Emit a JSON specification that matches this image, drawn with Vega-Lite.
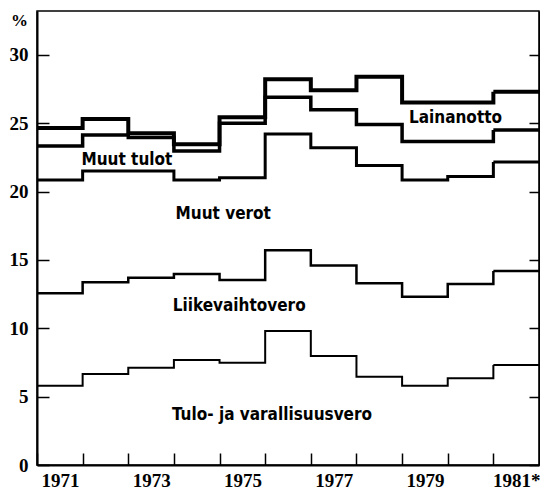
{
  "$schema": "https://vega.github.io/schema/vega-lite/v6.json",
  "width": 502,
  "height": 454,
  "autosize": {"type": "none"},
  "padding": {"left": 37, "top": 11, "right": 1, "bottom": 27},
  "background": "white",
  "config": {
    "view": {"stroke": "black", "strokeWidth": 1.5},
    "axis": {
      "grid": false,
      "domainColor": "black",
      "domainWidth": 2,
      "tickColor": "black",
      "tickWidth": 1.5,
      "labelColor": "black",
      "labelFont": "Liberation Sans Narrow",
      "labelFontWeight": "bold",
      "labelFontSize": 19
    }
  },
  "datasets": {
    "steps": [
      {"series": "Lainanotto", "year": 1971, "value": 24.65},
      {"series": "Lainanotto", "year": 1972, "value": 25.3},
      {"series": "Lainanotto", "year": 1973, "value": 24.26},
      {"series": "Lainanotto", "year": 1974, "value": 23.46},
      {"series": "Lainanotto", "year": 1975, "value": 25.43},
      {"series": "Lainanotto", "year": 1976, "value": 28.2},
      {"series": "Lainanotto", "year": 1977, "value": 27.4},
      {"series": "Lainanotto", "year": 1978, "value": 28.4},
      {"series": "Lainanotto", "year": 1979, "value": 26.5},
      {"series": "Lainanotto", "year": 1980, "value": 26.5},
      {"series": "Lainanotto", "year": 1981, "value": 27.3},
      {"series": "Muut tulot", "year": 1971, "value": 23.33},
      {"series": "Muut tulot", "year": 1972, "value": 24.14},
      {"series": "Muut tulot", "year": 1973, "value": 23.95},
      {"series": "Muut tulot", "year": 1974, "value": 22.97},
      {"series": "Muut tulot", "year": 1975, "value": 25.0},
      {"series": "Muut tulot", "year": 1976, "value": 26.9},
      {"series": "Muut tulot", "year": 1977, "value": 25.97},
      {"series": "Muut tulot", "year": 1978, "value": 24.9},
      {"series": "Muut tulot", "year": 1979, "value": 23.65},
      {"series": "Muut tulot", "year": 1980, "value": 23.65},
      {"series": "Muut tulot", "year": 1981, "value": 24.5},
      {"series": "Muut verot", "year": 1971, "value": 20.85},
      {"series": "Muut verot", "year": 1972, "value": 21.5},
      {"series": "Muut verot", "year": 1973, "value": 21.5},
      {"series": "Muut verot", "year": 1974, "value": 20.85},
      {"series": "Muut verot", "year": 1975, "value": 21.0},
      {"series": "Muut verot", "year": 1976, "value": 24.2},
      {"series": "Muut verot", "year": 1977, "value": 23.2},
      {"series": "Muut verot", "year": 1978, "value": 21.9},
      {"series": "Muut verot", "year": 1979, "value": 20.85},
      {"series": "Muut verot", "year": 1980, "value": 21.1},
      {"series": "Muut verot", "year": 1981, "value": 22.15},
      {"series": "Liikevaihtovero", "year": 1971, "value": 12.56},
      {"series": "Liikevaihtovero", "year": 1972, "value": 13.37},
      {"series": "Liikevaihtovero", "year": 1973, "value": 13.7},
      {"series": "Liikevaihtovero", "year": 1974, "value": 13.97},
      {"series": "Liikevaihtovero", "year": 1975, "value": 13.53},
      {"series": "Liikevaihtovero", "year": 1976, "value": 15.7},
      {"series": "Liikevaihtovero", "year": 1977, "value": 14.58},
      {"series": "Liikevaihtovero", "year": 1978, "value": 13.29},
      {"series": "Liikevaihtovero", "year": 1979, "value": 12.31},
      {"series": "Liikevaihtovero", "year": 1980, "value": 13.24},
      {"series": "Liikevaihtovero", "year": 1981, "value": 14.19},
      {"series": "Tulo- ja varallisuusvero", "year": 1971, "value": 5.8},
      {"series": "Tulo- ja varallisuusvero", "year": 1972, "value": 6.66},
      {"series": "Tulo- ja varallisuusvero", "year": 1973, "value": 7.12},
      {"series": "Tulo- ja varallisuusvero", "year": 1974, "value": 7.68},
      {"series": "Tulo- ja varallisuusvero", "year": 1975, "value": 7.48},
      {"series": "Tulo- ja varallisuusvero", "year": 1976, "value": 9.8},
      {"series": "Tulo- ja varallisuusvero", "year": 1977, "value": 7.97},
      {"series": "Tulo- ja varallisuusvero", "year": 1978, "value": 6.46},
      {"series": "Tulo- ja varallisuusvero", "year": 1979, "value": 5.8},
      {"series": "Tulo- ja varallisuusvero", "year": 1980, "value": 6.34},
      {"series": "Tulo- ja varallisuusvero", "year": 1981, "value": 7.32}
    ],
    "labels": [
      {"label": "Lainanotto", "year": 1980.17, "value": 25.4},
      {"label": "Muut tulot", "year": 1972.97, "value": 22.3},
      {"label": "Muut  verot", "year": 1975.08, "value": 18.36},
      {"label": "Liikevaihtovero", "year": 1975.43, "value": 11.63},
      {"label": "Tulo- ja varallisuusvero", "year": 1976.15, "value": 3.66}
    ]
  },
  "layer": [
    {
      "data": {"name": "steps"},
      "mark": {"type": "line", "interpolate": "step-after", "color": "black", "strokeJoin": "miter"},
      "encoding": {
        "x": {
          "field": "year",
          "type": "quantitative",
          "scale": {"domain": [1971, 1982], "nice": false, "zero": false},
          "axis": {
            "title": null,
            "values": [1971, 1972, 1973, 1974, 1975, 1976, 1977, 1978, 1979, 1980, 1981],
            "labelExpr": "datum.value % 2 == 1 ? (datum.value == 1981 ? '1981*' : format(datum.value, 'd')) : ''",
            "labelOffset": 23,
            "labelFlush": false,
            "labelOverlap": false,
            "labelBound": false,
            "tickSize": -12,
            "labelPadding": 18
          }
        },
        "y": {
          "field": "value",
          "type": "quantitative",
          "scale": {"domain": [0, 33.2], "nice": false},
          "axis": {
            "orient": "left",
            "values": [0, 5, 10, 15, 20, 25, 30],
            "tickSize": -12,
            "labelPadding": 21,
            "title": "%",
            "titleAngle": 0,
            "titleX": -18,
            "titleY": 9,
            "titleAlign": "center",
            "titleBaseline": "middle",
            "titleFont": "Liberation Sans Narrow",
            "titleFontWeight": "bold",
            "titleFontSize": 17,
            "titleColor": "black"
          }
        },
        "detail": {"field": "series", "type": "nominal"},
        "strokeWidth": {
          "field": "series",
          "type": "nominal",
          "scale": {
            "domain": ["Lainanotto", "Muut tulot", "Muut verot", "Liikevaihtovero", "Tulo- ja varallisuusvero"],
            "range": [4, 2, 2, 2, 2]
          },
          "legend": null
        }
      }
    },
    {
      "data": {"name": "steps"},
      "transform": [{"filter": "datum.year == 1981"}],
      "mark": {"type": "rule", "color": "black"},
      "encoding": {
        "x": {"field": "year", "type": "quantitative"},
        "x2": {"datum": 1982},
        "y": {
          "field": "value",
          "type": "quantitative",
          "axis": {
            "orient": "right",
            "values": [0, 5, 10, 15, 20, 25, 30],
            "labels": false,
            "tickSize": -10,
            "domainWidth": 1.5,
            "title": null
          }
        },
        "strokeWidth": {"field": "series", "type": "nominal", "legend": null}
      }
    },
    {
      "data": {"name": "labels"},
      "mark": {
        "type": "text",
        "align": "center",
        "baseline": "middle",
        "font": "DejaVu Sans Condensed",
        "fontWeight": "bold",
        "fontSize": 17,
        "color": "black"
      },
      "encoding": {
        "x": {"field": "year", "type": "quantitative"},
        "y": {"field": "value", "type": "quantitative", "axis": null},
        "text": {"field": "label"}
      }
    }
  ],
  "resolve": {"axis": {"y": "independent"}}
}
